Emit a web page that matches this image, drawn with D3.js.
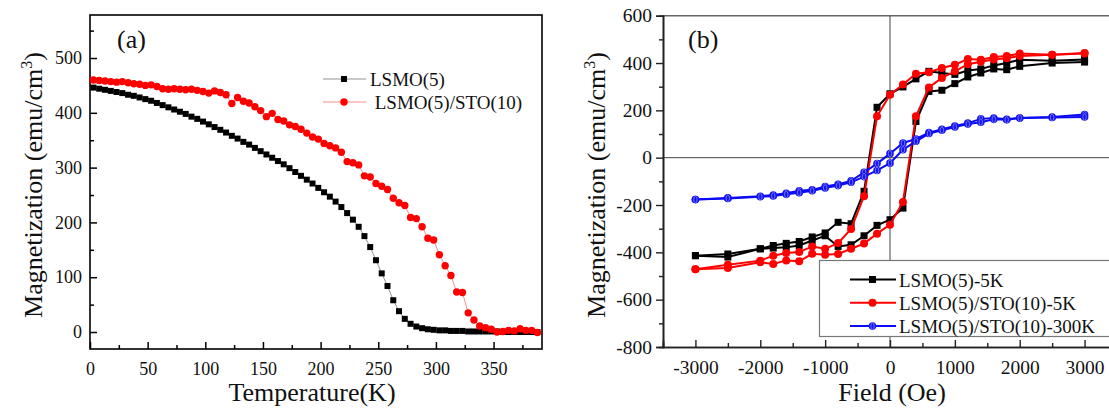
<!DOCTYPE html>
<html>
<head>
<meta charset="utf-8">
<script src="https://cdn.jsdelivr.net/npm/d3@7"></script>
<style>
  html, body { margin: 0; padding: 0; background: #fff; }
  svg, svg text { font-family: "Liberation Serif", "Times New Roman", serif !important; }
  svg { display: block; }
</style>
</head>
<body>
<svg id="chart" width="1109" height="408"></svg>
<script>
// ---- Panel (a): M(T) curves ----
const tempK = [3,8,13,18,23,28,33,38,43,48,53,58,63,68,73,78,83,88,93,98,103,108,113,118,123,128,133,138,143,148,153,158,163,168,173,178,183,188,193,198,203,208,213,218,223,228,233,238,243,248,253,258,263,268,273,278,283,288,293,298,303,308,313,318,323,328,333,338,343,348,353,358,363,368,373,378,383,388];
const magLSMO = [446,444,442,440,438,436,433,431,428,425,422,418,414,410,406,402,398,393,389,384,379,374,369,364,358,353,347,342,336,330,324,318,312,306,299,292,285,278,271,263,255,247,238,228,217,205,192,175,155,131,107,84,58,38,24,15,10,7,5,4,3,3,2,2,2,1,1,1,1,1,1,0,0,0,0,0,0,0];
const magLSMOSTO = [460,459,458,457,456,457,455,453,452,450,451,448,444,443,444,443,442,443,441,439,436,440,437,433,417,428,421,418,411,404,393,399,388,385,378,375,370,363,356,352,344,340,336,328,311,309,305,285,283,271,266,260,244,236,231,209,207,192,171,168,141,121,103,73,72,35,22,11,8,5,0,1,3,2,6,3,3,-1];
const tempTicks = [0,50,100,150,200,250,300,350];
const magTicksA = [0,100,200,300,400,500];

// ---- Panel (b): hysteresis loops ----
const fieldOe = [-3000,-2500,-2000,-1800,-1600,-1400,-1200,-1000,-800,-600,-400,-200,0,200,400,600,800,1000,1200,1400,1600,1800,2000,2500,3000];
const lsmo5KUp   = [-414,-420,-385,-382,-379,-371,-350,-330,-375,-368,-330,-286,-262,-213,153,280,285,313,341,358,375,372,386,400,404];
const lsmo5KDown = [-414,-407,-385,-371,-362,-354,-335,-318,-273,-279,-142,213,270,299,333,365,358,352,368,375,390,400,414,410,415];
const sto5KUp    = [-471,-466,-442,-449,-434,-438,-406,-410,-407,-385,-363,-321,-283,-187,175,297,337,365,395,405,415,420,430,435,440];
const sto5KDown  = [-471,-452,-435,-414,-403,-399,-375,-385,-361,-301,-163,175,266,309,355,361,379,393,417,414,425,430,440,435,442];
const sto300KUp  = [-177,-172,-165,-162,-155,-148,-140,-128,-118,-104,-80,-54,-23,34,69,102,116,130,142,150,162,160,168,170,172];
const sto300KDown= [-177,-170,-163,-158,-150,-140,-136,-122,-112,-98,-62,-25,17,62,79,106,120,134,146,164,168,162,168,172,182];
const fieldTicks = [-3000,-2000,-1000,0,1000,2000,3000];
const magTicksB = [-800,-600,-400,-200,0,200,400,600];
const legendA = ["LSMO(5)", " LSMO(5)/STO(10)"];
const legendB = ["LSMO(5)-5K", "LSMO(5)/STO(10)-5K", "LSMO(5)/STO(10)-300K"];

const FONT = "'Liberation Serif', 'Times New Roman', serif";
const svg = d3.select("#chart").style("font-family", FONT);

// helpers for marker shapes
function squares(g, pts, x, y, size, fill) {
  g.selectAll(null).data(pts).join("rect")
    .attr("x", d => x(d[0]) - size / 2).attr("y", d => y(d[1]) - size / 2)
    .attr("width", size).attr("height", size).attr("fill", fill);
}
function circles(g, pts, x, y, r, fill) {
  g.selectAll(null).data(pts).join("circle")
    .attr("cx", d => x(d[0])).attr("cy", d => y(d[1])).attr("r", r).attr("fill", fill);
}
function balls(g, pts, x, y, r) {
  const b = g.selectAll(null).data(pts).join("g")
    .attr("transform", d => `translate(${x(d[0])},${y(d[1])})`);
  b.append("circle").attr("r", r).attr("fill", "#1414f0");
  b.append("ellipse").attr("rx", r * 0.45).attr("ry", r * 0.85)
    .attr("fill", "none").attr("stroke", "#7a7aff").attr("stroke-width", 0.9);
}
function styleTicks(g, size) {
  g.selectAll(".tick text")
    .attr("font-size", size).attr("fill", "#111")
    .style("font-family", FONT).style("font-size", size + "px");
  g.selectAll("g").attr("font-family", null);
}

// ================= Panel (a) =================
{
  const x = d3.scaleLinear().domain([0, 392]).range([90, 542]);
  const y = d3.scaleLinear().domain([-31, 578.5]).range([349, 15]);
  const g = svg.append("g");

  // frame
  g.append("rect").attr("x", 90).attr("y", 15).attr("width", 452).attr("height", 334)
    .attr("fill", "none").attr("stroke", "#000").attr("stroke-width", 1.6);

  // x axis (ticks inward)
  const xAx = d3.axisBottom(x).tickValues(tempTicks).tickSize(-7).tickPadding(13).tickFormat(d3.format("d"));
  g.append("g").attr("transform", "translate(0,349)").call(xAx);
  const xMinor = d3.axisBottom(x).tickValues(d3.range(25, 392, 50)).tickSize(-4).tickFormat("");
  g.append("g").attr("transform", "translate(0,349)").call(xMinor);

  // y axis (ticks inward)
  const yAx = d3.axisLeft(y).tickValues(magTicksA).tickSize(-7).tickPadding(8).tickFormat(d3.format("d"));
  g.append("g").attr("transform", "translate(90,0)").call(yAx);
  const yMinor = d3.axisLeft(y).tickValues([50,150,250,350,450,550]).tickSize(-4).tickFormat("");
  g.append("g").attr("transform", "translate(90,0)").call(yMinor);

  g.selectAll(".domain").remove();
  g.selectAll(".tick line").attr("stroke", "#000").attr("stroke-width", 1.5);
  styleTicks(g, 18);

  // data
  const ptsBlack = tempK.map((t, i) => [t, magLSMO[i]]);
  const ptsRed = tempK.map((t, i) => [t, magLSMOSTO[i]]);
  const line = d3.line().x(d => x(d[0])).y(d => y(d[1]));
  g.append("path").attr("d", line(ptsBlack)).attr("fill", "none").attr("stroke", "#777").attr("stroke-width", 0.8);
  g.append("path").attr("d", line(ptsRed)).attr("fill", "none").attr("stroke", "#f07070").attr("stroke-width", 0.8);
  squares(g.append("g"), ptsBlack, x, y, 6, "#000");
  circles(g.append("g"), ptsRed, x, y, 3.7, "#ff0000");

  // legend
  const lg = g.append("g");
  [0, 1].forEach(i => {
    const yy = 79 + i * 23;
    lg.append("line").attr("x1", 323).attr("x2", 366).attr("y1", yy).attr("y2", yy)
      .attr("stroke", i ? "#f07070" : "#777").attr("stroke-width", 0.8);
    if (i === 0) lg.append("rect").attr("x", 341).attr("y", yy - 3).attr("width", 6).attr("height", 6).attr("fill", "#000");
    else lg.append("circle").attr("cx", 344).attr("cy", yy).attr("r", 3.7).attr("fill", "#ff0000");
    lg.append("text").attr("x", 370).attr("y", yy + 7).attr("font-size", 19)
      .style("white-space", "pre").attr("fill", "#111").text(legendA[i]);
  });

  g.append("text").attr("x", 117).attr("y", 48).attr("font-size", 26).attr("fill", "#111").text("(a)");
  g.append("text").attr("x", 312).attr("y", 401).attr("text-anchor", "middle").attr("font-size", 26)
    .attr("fill", "#111").text("Temperature(K)");
  const yt = g.append("text").attr("transform", "translate(42,185) rotate(-90)")
    .attr("text-anchor", "middle").attr("font-size", 26).attr("fill", "#111");
  yt.append("tspan").text("Magnetization (emu/cm");
  yt.append("tspan").attr("dy", -10).attr("font-size", 16).text("3");
  yt.append("tspan").attr("dy", 10).text(")");
}

// ================= Panel (b) =================
{
  const x = d3.scaleLinear().domain([-3500, 3500]).range([663, 1117]);
  const y = d3.scaleLinear().domain([-800, 600]).range([347, 15.7]);
  const g = svg.append("g");

  // top border and zero lines
  g.append("line").attr("x1", 663).attr("x2", 1109).attr("y1", 15.7).attr("y2", 15.7)
    .attr("stroke", "#666").attr("stroke-width", 1.6);
  g.append("line").attr("x1", 663).attr("x2", 1109).attr("y1", y(0)).attr("y2", y(0))
    .attr("stroke", "#444").attr("stroke-width", 1);
  g.append("line").attr("x1", x(0)).attr("x2", x(0)).attr("y1", 15.7).attr("y2", 347)
    .attr("stroke", "#444").attr("stroke-width", 1);

  // axes
  const xAx = d3.axisBottom(x).tickValues(fieldTicks).tickSize(-7).tickPadding(13).tickFormat(d => String(d));
  g.append("g").attr("transform", "translate(0,347)").call(xAx);
  const xMinor = d3.axisBottom(x).tickValues([-2500,-1500,-500,500,1500,2500]).tickSize(-4).tickFormat("");
  g.append("g").attr("transform", "translate(0,347)").call(xMinor);
  const yAx = d3.axisLeft(y).tickValues(magTicksB).tickSize(7).tickPadding(4).tickFormat(d => String(d));
  g.append("g").attr("transform", "translate(663,0)").call(yAx);
  const yMinor = d3.axisLeft(y).tickValues([-700,-500,-300,-100,100,300,500]).tickSize(4).tickFormat("");
  g.append("g").attr("transform", "translate(663,0)").call(yMinor);

  g.selectAll(".domain").attr("stroke", "#222").attr("stroke-width", 1.6);
  g.selectAll(".tick line").attr("stroke", "#222").attr("stroke-width", 1.4);
  styleTicks(g, 19.5);

  const line = d3.line().x(d => x(d[0])).y(d => y(d[1]));
  const series = [
    { up: lsmo5KUp, down: lsmo5KDown, color: "#000", kind: "square" },
    { up: sto5KUp, down: sto5KDown, color: "#ff0000", kind: "circle" },
    { up: sto300KUp, down: sto300KDown, color: "#0a0af5", kind: "ball" }
  ];
  series.forEach(s => {
    const sg = g.append("g");
    [s.down, s.up].forEach(vals => {
      const pts = fieldOe.map((f, i) => [f, vals[i]]);
      sg.append("path").attr("d", line(pts)).attr("fill", "none")
        .attr("stroke", s.color).attr("stroke-width", 2);
      if (s.kind === "square") squares(sg, pts, x, y, 7, "#000");
      else if (s.kind === "circle") circles(sg, pts, x, y, 4, "#ff0000");
      else balls(sg, pts, x, y, 3.8);
    });
  });

  // legend
  const lg = g.append("g");
  lg.append("rect").attr("x", 819.5).attr("y", 260.5).attr("width", 300).attr("height", 76)
    .attr("fill", "#fff").attr("stroke", "#777").attr("stroke-width", 1.2);
  series.forEach((s, i) => {
    const yy = 279.5 + i * 23.3;
    lg.append("line").attr("x1", 850).attr("x2", 896).attr("y1", yy).attr("y2", yy)
      .attr("stroke", s.color).attr("stroke-width", 2);
    if (s.kind === "square") squares(lg, [[0, 0]], () => 872.5, () => yy, 7, "#000");
    else if (s.kind === "circle") circles(lg, [[0, 0]], () => 872.5, () => yy, 4, "#ff0000");
    else balls(lg, [[0, 0]], () => 872.5, () => yy, 3.8);
    lg.append("text").attr("x", 899).attr("y", yy + 7).attr("font-size", 19).attr("fill", "#111").text(legendB[i]);
  });

  g.append("text").attr("x", 688).attr("y", 48).attr("font-size", 26).attr("fill", "#111").text("(b)");
  g.append("text").attr("x", 892).attr("y", 401).attr("text-anchor", "middle").attr("font-size", 26)
    .attr("fill", "#111").text("Field (Oe)");
  const yt = g.append("text").attr("transform", "translate(605,185) rotate(-90)")
    .attr("text-anchor", "middle").attr("font-size", 26).attr("fill", "#111");
  yt.append("tspan").text("Magnetization (emu/cm");
  yt.append("tspan").attr("dy", -10).attr("font-size", 16).text("3");
  yt.append("tspan").attr("dy", 10).text(")");
}
</script>
</body>
</html>
